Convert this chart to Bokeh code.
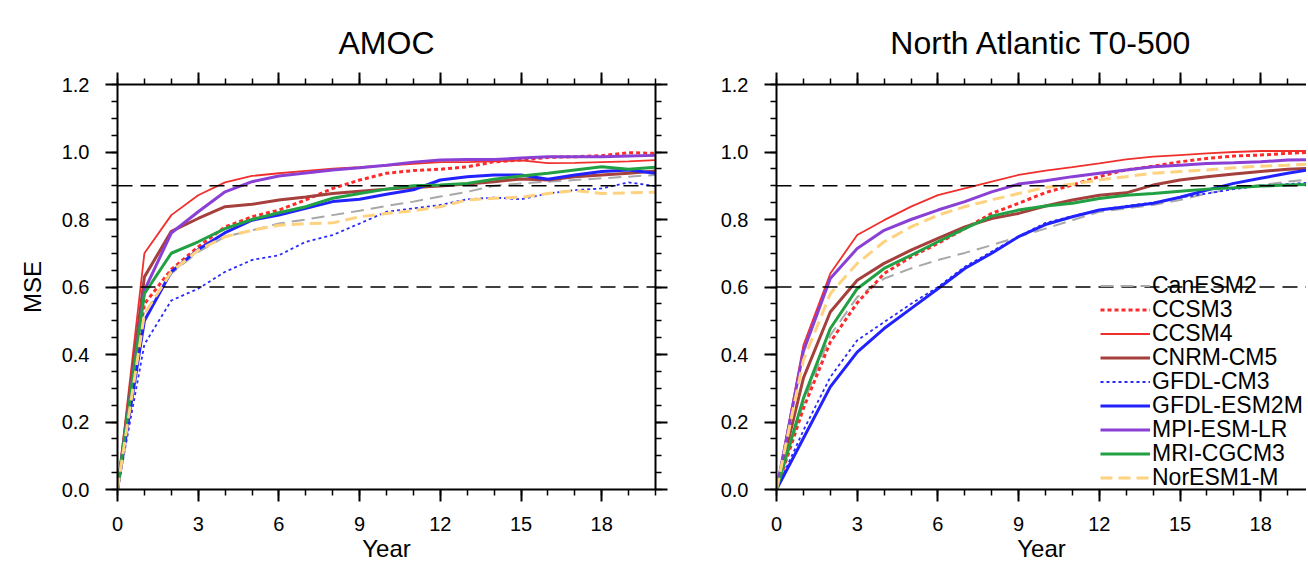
from bokeh.plotting import figure
from bokeh.models import Range1d, LinearAxis, FixedTicker, Span, Legend, LegendItem
from bokeh.layouts import row
from bokeh.embed import file_html
from bokeh.resources import INLINE

FONT = "Liberation Sans"

years = list(range(21))
models = ["CanESM2", "CCSM3", "CCSM4", "CNRM-CM5", "GFDL-CM3",
          "GFDL-ESM2M", "MPI-ESM-LR", "MRI-CGCM3", "NorESM1-M"]

x_ticks = [0, 3, 6, 9, 12, 15, 18]
x_minor = list(range(0, 21))
y_ticks = [0.0, 0.2, 0.4, 0.6, 0.8, 1.0, 1.2]
y_tick_labels = ["0.0", "0.2", "0.4", "0.6", "0.8", "1.0", "1.2"]
y_minor = [0.0, 0.05, 0.1, 0.15, 0.2, 0.25, 0.3, 0.35, 0.4, 0.45, 0.5, 0.55,
           0.6, 0.65, 0.7, 0.75, 0.8, 0.85, 0.9, 0.95, 1.0, 1.05, 1.1, 1.15, 1.2]
ref_levels = [0.6, 0.9]

# ---- AMOC ----
amoc_canesm2 = [0, 0.52, 0.64, 0.704, 0.749, 0.768, 0.788, 0.80, 0.813, 0.826, 0.84,
                0.853, 0.868, 0.882, 0.90, 0.907, 0.912, 0.917, 0.922, 0.927, 0.932]
amoc_ccsm3 = [0, 0.55, 0.652, 0.719, 0.778, 0.808, 0.828, 0.858, 0.892, 0.917, 0.937,
              0.945, 0.949, 0.956, 0.971, 0.976, 0.984, 0.986, 0.989, 0.998, 0.996]
amoc_ccsm4 = [0, 0.70, 0.813, 0.872, 0.91, 0.929, 0.937, 0.944, 0.951, 0.955, 0.96,
              0.965, 0.97, 0.97, 0.972, 0.975, 0.967, 0.968, 0.97, 0.972, 0.976]
amoc_cnrm = [0, 0.63, 0.765, 0.803, 0.838, 0.845, 0.858, 0.867, 0.877, 0.884, 0.89,
             0.895, 0.899, 0.905, 0.912, 0.92, 0.917, 0.927, 0.932, 0.937, 0.944]
amoc_gfdlcm3 = [0, 0.43, 0.56, 0.595, 0.645, 0.68, 0.694, 0.734, 0.754, 0.788, 0.823,
                0.833, 0.843, 0.86, 0.865, 0.86, 0.877, 0.887, 0.892, 0.91, 0.899]
amoc_gfdlesm = [0, 0.50, 0.645, 0.711, 0.761, 0.798, 0.813, 0.833, 0.853, 0.86, 0.875,
                0.888, 0.917, 0.927, 0.932, 0.932, 0.919, 0.932, 0.942, 0.947, 0.937]
amoc_mpi = [0, 0.59, 0.76, 0.823, 0.882, 0.912, 0.929, 0.938, 0.947, 0.953, 0.961,
            0.97, 0.976, 0.978, 0.978, 0.982, 0.986, 0.986, 0.986, 0.988, 0.99]
amoc_mri = [0, 0.58, 0.70, 0.734, 0.773, 0.80, 0.82, 0.838, 0.863, 0.877, 0.89,
            0.90, 0.902, 0.907, 0.919, 0.929, 0.937, 0.947, 0.956, 0.949, 0.955]
amoc_noresm = [0, 0.52, 0.645, 0.709, 0.749, 0.768, 0.783, 0.788, 0.79, 0.808, 0.818,
               0.826, 0.838, 0.858, 0.863, 0.866, 0.877, 0.886, 0.877, 0.879, 0.881]

# ---- North Atlantic T0-500 ----
nat_canesm2 = [0, 0.254, 0.457, 0.57, 0.625, 0.655, 0.68, 0.701, 0.724, 0.749, 0.773,
               0.798, 0.823, 0.833, 0.843, 0.858, 0.877, 0.892, 0.902, 0.912, 0.92]
nat_ccsm3 = [0, 0.24, 0.437, 0.553, 0.64, 0.689, 0.729, 0.773, 0.818, 0.848, 0.88,
             0.902, 0.927, 0.947, 0.958, 0.971, 0.981, 0.988, 0.991, 0.996, 1.0]
nat_ccsm4 = [0, 0.427, 0.64, 0.754, 0.798, 0.838, 0.872, 0.892, 0.912, 0.932, 0.945,
             0.955, 0.966, 0.978, 0.986, 0.991, 0.996, 1.0, 1.003, 1.003, 1.003]
nat_cnrm = [0, 0.33, 0.526, 0.62, 0.67, 0.709, 0.744, 0.778, 0.803, 0.818, 0.84,
            0.858, 0.872, 0.879, 0.902, 0.917, 0.927, 0.935, 0.942, 0.949, 0.952]
nat_gfdlcm3 = [0, 0.175, 0.333, 0.442, 0.496, 0.55, 0.60, 0.66, 0.705, 0.75, 0.79,
               0.81, 0.828, 0.84, 0.85, 0.865, 0.877, 0.89, 0.90, 0.905, 0.91]
nat_gfdlesm = [0, 0.152, 0.304, 0.407, 0.477, 0.536, 0.595, 0.655, 0.70, 0.749, 0.785,
               0.808, 0.828, 0.838, 0.848, 0.866, 0.887, 0.907, 0.922, 0.937, 0.95]
nat_mpi = [0, 0.41, 0.625, 0.714, 0.768, 0.80, 0.828, 0.853, 0.882, 0.905, 0.915,
           0.927, 0.937, 0.947, 0.956, 0.961, 0.966, 0.968, 0.971, 0.976, 0.978]
nat_mri = [0, 0.27, 0.477, 0.595, 0.655, 0.694, 0.734, 0.773, 0.81, 0.828, 0.84,
           0.848, 0.862, 0.872, 0.877, 0.884, 0.89, 0.894, 0.899, 0.902, 0.905]
nat_noresm = [0, 0.383, 0.58, 0.67, 0.734, 0.778, 0.813, 0.838, 0.858, 0.877, 0.895,
              0.905, 0.917, 0.927, 0.937, 0.942, 0.947, 0.953, 0.958, 0.961, 0.965]

amoc_series = [amoc_canesm2, amoc_ccsm3, amoc_ccsm4, amoc_cnrm, amoc_gfdlcm3,
               amoc_gfdlesm, amoc_mpi, amoc_mri, amoc_noresm]
nat_series = [nat_canesm2, nat_ccsm3, nat_ccsm4, nat_cnrm, nat_gfdlcm3,
              nat_gfdlesm, nat_mpi, nat_mri, nat_noresm]

styles = {
    "CanESM2":    dict(color="#a8a8a8", width=2.0, dash="13 7"),
    "CCSM3":      dict(color="#ff2a2a", width=3.0, dash="4 3"),
    "CCSM4":      dict(color="#f0302c", width=1.8, dash="solid"),
    "CNRM-CM5":   dict(color="#a5403c", width=3.0, dash="solid"),
    "GFDL-CM3":   dict(color="#2a2aff", width=1.8, dash="3 3"),
    "GFDL-ESM2M": dict(color="#2222ff", width=3.0, dash="solid"),
    "MPI-ESM-LR": dict(color="#8a40d4", width=3.0, dash="solid"),
    "MRI-CGCM3":  dict(color="#22a044", width=3.0, dash="solid"),
    "NorESM1-M":  dict(color="#ffd27f", width=3.0, dash="12 6"),
}

UNIT = 538 / 20   # pixels per year, same in both panels
ROW = 24          # legend row pitch in pixels
ROW_BOX = 27      # legend row box height in pixels


def style_axis(ax, labels=True):
    ax.axis_line_width = 2
    ax.axis_line_color = "black"
    ax.major_tick_line_width = 2
    ax.minor_tick_line_width = 1.5
    ax.major_tick_line_color = "black"
    ax.minor_tick_line_color = "black"
    ax.major_tick_out = 12
    ax.major_tick_in = 0
    ax.minor_tick_out = 6
    ax.minor_tick_in = 0
    ax.major_label_text_font = FONT
    ax.major_label_text_font_size = "20px"
    ax.major_label_text_color = "black"
    ax.axis_label_text_font = FONT
    ax.axis_label_text_font_style = "normal"
    ax.axis_label_text_font_size = "24px"
    ax.axis_label_text_color = "black"
    if not labels:
        ax.major_label_standoff = 0


def make_fig(title, series, frame_w, min_left, min_right, ylabel,
             right_axis, legend, title_offset):
    p = figure(frame_width=frame_w, frame_height=405,
               x_range=Range1d(0, frame_w / UNIT), y_range=Range1d(0, 1.2),
               output_backend="svg", toolbar_location=None,
               min_border_left=min_left, min_border_right=min_right,
               min_border_top=84, min_border_bottom=78,
               background_fill_color="white", border_fill_color="white")
    p.outline_line_color = None
    p.grid.visible = False
    p.title.text = title
    p.title.align = "center"
    p.title.text_font = FONT
    p.title.text_font_size = "32px"
    p.title.text_font_style = "normal"
    p.title.text_color = "black"
    p.title.standoff = 24
    p.title.offset = title_offset

    xt = FixedTicker(ticks=x_ticks, minor_ticks=x_minor)
    yt = FixedTicker(ticks=y_ticks, minor_ticks=y_minor)
    ylab = {t: s for t, s in zip(y_ticks, y_tick_labels)}

    xa = p.xaxis[0]
    xa.ticker = xt
    style_axis(xa)
    xa.major_label_standoff = 15
    xa.axis_label = "Year"
    xa.axis_label_standoff = 1

    ya = p.yaxis[0]
    ya.ticker = yt
    ya.major_label_overrides = ylab
    style_axis(ya)
    ya.major_label_standoff = 16
    if ylabel:
        ya.axis_label = ylabel
        ya.axis_label_standoff = 13

    top = LinearAxis(ticker=FixedTicker(ticks=x_ticks, minor_ticks=x_minor),
                     major_label_overrides={t: "" for t in x_ticks})
    style_axis(top, labels=False)
    p.add_layout(top, "above")
    if right_axis:
        rt = LinearAxis(ticker=FixedTicker(ticks=y_ticks, minor_ticks=y_minor),
                        major_label_overrides={t: "" for t in y_ticks})
        style_axis(rt, labels=False)
        p.add_layout(rt, "right")

    for lev in ref_levels:
        p.add_layout(Span(location=lev, dimension="width", line_color="black",
                          line_width=1.5, line_dash="15 8"))

    items = []
    for name, vals in zip(models, series):
        st = styles[name]
        r = p.line(years, vals, line_color=st["color"], line_width=st["width"],
                   line_dash=st["dash"])
        items.append(LegendItem(label=name, renderers=[r]))

    if legend:
        n = len(items)
        for i, it in enumerate(items):
            yloc = int(round(ROW / 2 - ROW_BOX / 2 + ROW * (n - 1 - i)))
            lg = Legend(items=[it], location=(324, yloc), orientation="vertical",
                        padding=0, margin=0, spacing=0,
                        glyph_width=50, glyph_height=ROW_BOX, label_height=ROW_BOX,
                        label_standoff=2, label_text_font=FONT,
                        label_text_font_size="23px", label_text_color="black",
                        background_fill_alpha=0, border_line_alpha=0)
            p.add_layout(lg)
    return p


# left panel: frame 117..655 ; right panel: frame 776..1306 (clipped like the reference)
p1 = make_fig("AMOC", amoc_series, 538, 117, 30, "MSE", True, False, 0)
p2 = make_fig("North Atlantic T0-500", nat_series, 530, 91, 0, None, False, True, 4)

layout = row(p1, p2)
open("out.html", "w").write(file_html(layout, INLINE))
